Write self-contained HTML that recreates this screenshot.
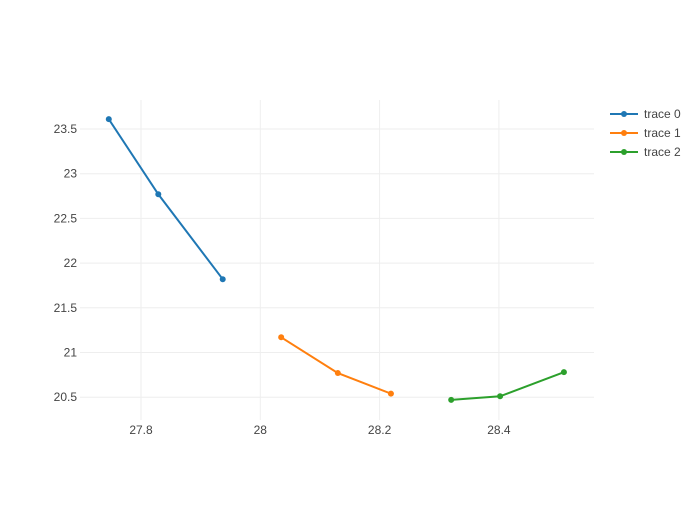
<!DOCTYPE html>
<html><head><meta charset="utf-8"><style>
body{margin:0;background:#fff;}
svg text{font-family:"Liberation Sans",sans-serif;font-size:12px;fill:#444;}
</style></head><body>
<svg id="chart" width="700" height="500">
<g id="grid"></g><g id="axes"></g><g id="series"></g><g id="legend"></g>
</svg>
<script>
const xTicks=[27.8,28,28.2,28.4];
const yTicks=[20.5,21,21.5,22,22.5,23,23.5];
const traceNames=["trace 0","trace 1","trace 2"];
const trace0X=[27.746,27.829,27.937];
const trace0Y=[23.61,22.77,21.82];
const trace1X=[28.035,28.130,28.219];
const trace1Y=[21.17,20.77,20.54];
const trace2X=[28.320,28.402,28.509];
const trace2Y=[20.47,20.51,20.78];
const colors=["#1f77b4","#ff7f0e","#2ca02c"];
const NS="http://www.w3.org/2000/svg";
const sx=v=>141+(v-27.8)*596.5;
const sy=v=>129-(v-23.5)*89.4;
function mk(tag,attrs,parent){const e=document.createElementNS(NS,tag);for(const k in attrs)e.setAttribute(k,attrs[k]);parent.appendChild(e);return e;}
const grid=document.getElementById('grid'),axes=document.getElementById('axes'),series=document.getElementById('series'),legend=document.getElementById('legend');
xTicks.forEach(t=>{
 const l=mk('line',{x1:sx(t),x2:sx(t),y1:100,y2:420,stroke:'#eee','stroke-width':1},grid);
 
 
 const tx=mk('text',{x:sx(t),y:434,'text-anchor':'middle'},axes);tx.textContent=String(t);
 
 
});
yTicks.forEach(t=>{
 const l=mk('line',{x1:80,x2:594,y1:sy(t),y2:sy(t),stroke:'#eee','stroke-width':1},grid);
 
 
 const tx=mk('text',{x:77,y:sy(t)+4,'text-anchor':'end'},axes);tx.textContent=String(t);
 
 
});
const data=[[trace0X,trace0Y],[trace1X,trace1Y],[trace2X,trace2Y]];
data.forEach((d,i)=>{
 const g=mk('g',{},series);
 
 
 const pts=d[0].map((x,j)=>sx(x)+','+sy(d[1][j])).join(' ');
 const pl=mk('polyline',{points:pts,fill:'none',stroke:colors[i],'stroke-width':2},g);
 
 
 d[0].forEach((x,j)=>{
  const c=mk('circle',{cx:sx(x),cy:sy(d[1][j]),r:3,fill:colors[i]},g);
  
  
 });
 const ly=114+i*19;
 const lg=mk('g',{},legend);
 
 
 mk('line',{x1:610,x2:638,y1:ly,y2:ly,stroke:colors[i],'stroke-width':2},lg);
 mk('circle',{cx:624,cy:ly,r:3,fill:colors[i]},lg);
 const t=mk('text',{x:644,y:ly+4},lg);t.textContent=traceNames[i];
});
</script>
</body></html>
